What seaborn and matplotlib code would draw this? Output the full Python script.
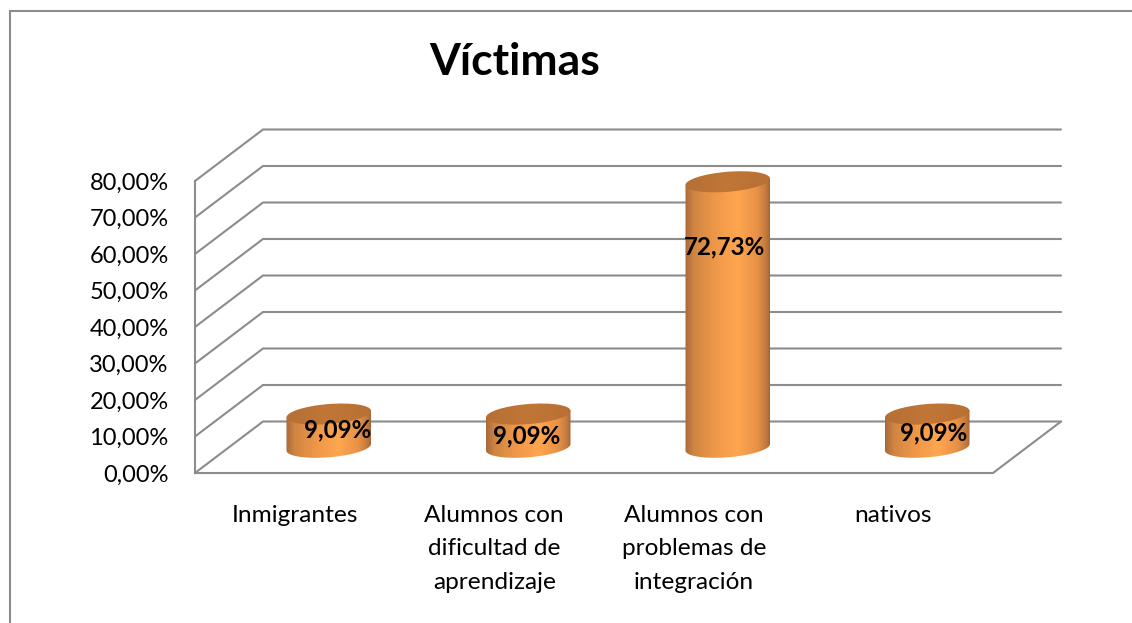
import numpy as np
import matplotlib
matplotlib.use("Agg")
import matplotlib.pyplot as plt
import seaborn as sns
from matplotlib.colors import LinearSegmentedColormap
from matplotlib.lines import Line2D
from matplotlib.patches import Ellipse
from matplotlib.path import Path
from matplotlib.transforms import IdentityTransform

categories = ["Inmigrantes", "Alumnos con\ndificultad de\naprendizaje",
              "Alumnos con\nproblemas de\nintegración", "nativos"]
values = [9.09, 9.09, 72.73, 9.09]
value_labels = ["9,09%", "9,09%", "72,73%", "9,09%"]
y_ticks = [0, 10, 20, 30, 40, 50, 60, 70, 80]
y_tick_labels = ["0,00%", "10,00%", "20,00%", "30,00%", "40,00%",
                 "50,00%", "60,00%", "70,00%", "80,00%"]
title = "Víctimas"

W, H = 1132, 623
GRAY = "#8c8c8c"
sns.set_theme(style="white")
plt.rcParams["font.family"] = ["Lato", "DejaVu Sans"]

fig = plt.figure(figsize=(W / 100, H / 100), dpi=100, facecolor="white")


def axes_px(left, top, right, bottom):
    return fig.add_axes([left / W, 1 - bottom / H, (right - left) / W, (bottom - top) / H])


# plot box (front plane) and depth of the 3-D floor, in pixels
L, T, R, B = 195, 181, 993, 473
DX, DY = 68, 51.5
unit_x = (R - L) / 4
unit_y = (B - T) / 80

ax = axes_px(L, T, R, B)
ax.set_facecolor("none")
ax.set_xlim(-0.5, 3.5)
ax.set_ylim(0, 80)
ax.set_xticks(range(4))
ax.set_xticklabels(categories, fontsize=17.6, color="black", linespacing=1.73)
ax.set_yticks(y_ticks)
ax.set_yticklabels(y_tick_labels, fontsize=17.0, color="black")
ax.tick_params(axis="x", length=0, pad=23)
ax.tick_params(axis="y", length=0, pad=19)
for side, sp in ax.spines.items():
    sp.set_visible(side in ("left", "bottom"))
    sp.set_color(GRAY)
    sp.set_linewidth(1.5)

# walls: slanted line plus back-wall line for each tick, and the floor's right edge
ddx, ddy = DX / unit_x, DY / unit_y
for v in y_ticks:
    ax.plot([-0.5, -0.5 + ddx, 3.5 + ddx], [v, v + ddy, v + ddy],
            color=GRAY, lw=1.5, clip_on=False, solid_joinstyle="miter")
ax.plot([3.5, 3.5 + ddx], [0, ddy], color=GRAY, lw=1.5, clip_on=False)

# bars stand half way into the depth of the floor
bx = axes_px(L + DX / 2, T - DY / 2, R + DX / 2, B - DY / 2)
bx.set_facecolor("none")
sns.barplot(x=list(range(4)), y=values, ax=bx, color="#e08e45", width=0.425,
            saturation=1, native_scale=True)
bx.set_xlim(-0.5, 3.5)
bx.set_ylim(0, 80)
bx.axis("off")

body_cmap = LinearSegmentedColormap.from_list(
    "body", [(0, "#a9683a"), (0.1, "#cf8542"), (0.35, "#ee9748"), (0.62, "#ffa64f"),
             (0.85, "#e89248"), (0.95, "#c47c3f"), (1, "#a5653a")])
top_cmap = LinearSegmentedColormap.from_list("top", ["#b66f35", "#c07636", "#b87034"])
ramp = np.linspace(0, 1, 256)[None, :]

ELL_H = 20
ANGLE = np.deg2rad(4.7)
t_low = np.linspace(0, np.pi, 60)


def ellipse_xy(cx, cy, a, t):
    ex, ey = a * np.cos(t), ELL_H / 2 * np.sin(t)
    return (cx + ex * np.cos(ANGLE) - ey * np.sin(ANGLE),
            cy + ex * np.sin(ANGLE) + ey * np.cos(ANGLE))


fig.canvas.draw()
for patch in bx.patches:
    x0, w, v = patch.get_x(), patch.get_width(), patch.get_height()
    xc = x0 + w / 2
    (cx, base), (_, top), (xr, _) = bx.transData.transform([(xc, 0), (xc, v), (x0 + w, 0)])
    a = xr - cx
    # body: rim of the top (left, right), then lower half of the base ellipse (right to left)
    lx, ly = ellipse_xy(cx, base, a, -t_low)
    ux, uy = ellipse_xy(cx, top, a, np.array([np.pi, 0.0]))
    verts = np.r_[np.c_[ux, uy], np.c_[lx, ly]]
    verts = np.r_[verts, verts[:1]]
    body = Path(verts, closed=True)
    im = bx.imshow(ramp, cmap=body_cmap, aspect="auto", zorder=3,
                   extent=[x0, x0 + w, -6, v + 6])
    im.set_clip_box(fig.bbox)
    im.set_clip_path(body, transform=IdentityTransform())
    lid = Ellipse((cx, top), 2 * a, ELL_H, angle=np.rad2deg(ANGLE),
                  transform=IdentityTransform())
    lid.set_visible(False)
    fig.add_artist(lid)
    imt = bx.imshow(ramp, cmap=top_cmap, aspect="auto", zorder=4,
                    extent=[x0, x0 + w, v - 6, v + 6])
    imt.set_clip_box(fig.bbox)
    imt.set_clip_path(lid)
    patch.set_visible(False)
bx.set_xlim(-0.5, 3.5)
bx.set_ylim(0, 80)

# value labels, nudged (pixels from the top of each bar) as in the original
label_nudges = [(8.5, -16), (-2, -22), (-3.5, -65), (6.5, -19)]
for patch, text, (nx, ny) in zip(bx.patches, value_labels, label_nudges):
    bx.annotate(text, (patch.get_x() + patch.get_width() / 2, patch.get_height()),
                xytext=(nx * 0.72, ny * 0.72), textcoords="offset points",
                ha="center", va="center", fontsize=17.4, fontweight="bold",
                color="black", zorder=6, annotation_clip=False)

fig.text(515 / W, 1 - 62 / H, title, fontsize=32, fontweight="bold", color="black",
         ha="center", va="center")

# outer frame: only left and top edges are visible in the crop
fig.add_artist(Line2D([9.5 / W, 9.5 / W, 1], [0, 1 - 11 / H, 1 - 11 / H],
                      color=GRAY, lw=1.5, solid_joinstyle="miter"))

fig.savefig("out.png", dpi=100, facecolor="white")
